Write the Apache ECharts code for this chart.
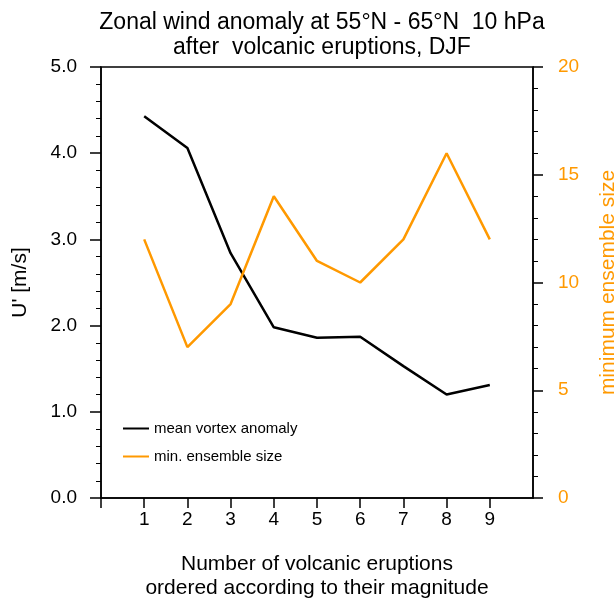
<!DOCTYPE html>
<html>
<head>
<meta charset="utf-8">
<script src="https://cdn.jsdelivr.net/npm/echarts@6/dist/echarts.min.js"></script>
<style>
  html, body { margin: 0; padding: 0; background: #fff; }
  #chart { width: 614px; height: 598px; }
</style>
</head>
<body>
<div id="chart"></div>
<script>
// number of eruptions (x)
var eruptions = [1, 2, 3, 4, 5, 6, 7, 8, 9];
// mean vortex anomaly U' [m/s] (left axis)
var meanAnomaly = [4.43, 4.06, 2.84, 1.98, 1.86, 1.87, 1.53, 1.20, 1.31];
// min. ensemble size (right axis)
var ensembleSize = [12, 7, 9, 14, 11, 10, 12, 16, 12];

var orange = '#FF9900';
var font = '"Liberation Sans", Arial, sans-serif';

function pairs(xs, ys) {
    return xs.map(function (x, i) { return [x, ys[i]]; });
}

var chart = echarts.init(document.getElementById('chart'), null, { renderer: 'canvas' });

var option = {
    animation: false,
    backgroundColor: '#fff',
    title: {
        text: 'Zonal wind anomaly at 55°N - 65°N  10 hPa\nafter  volcanic eruptions, DJF',
        left: 317,
        top: 5,
        textAlign: 'center',
        textStyle: {
            fontFamily: font,
            fontWeight: 'normal',
            fontSize: 23,
            lineHeight: 25,
            color: '#000'
        }
    },
    legend: {
        orient: 'vertical',
        left: 118,
        top: 416,
        itemWidth: 26,
        itemHeight: 10,
        itemGap: 13,
        icon: 'path://M0,4 L26,4 L26,6 L0,6 Z',
        textStyle: { fontFamily: font, fontSize: 15, color: '#000' },
        data: ['mean vortex anomaly', 'min. ensemble size']
    },
    grid: {
        left: 101,
        right: 81,
        top: 67,
        bottom: 100,
        outerBoundsMode: 'none',
        show: true,
        borderColor: '#000',
        borderWidth: 1.5
    },
    xAxis: {
        type: 'value',
        min: 0,
        max: 10,
        interval: 1,
        name: 'Number of volcanic eruptions\nordered according to their magnitude',
        nameLocation: 'middle',
        nameGap: 54,
        nameTextStyle: { fontFamily: font, fontSize: 21, lineHeight: 24, color: '#000' },
        axisLine: { lineStyle: { color: '#000', width: 1.5 } },
        axisTick: { customValues: [0, 1, 2, 3, 4, 5, 6, 7, 8, 9], length: 10, lineStyle: { color: '#000', width: 1.5 } },
        axisLabel: { customValues: eruptions, margin: 12, fontFamily: font, fontSize: 19, color: '#000' },
        splitLine: { show: false }
    },
    yAxis: [{
        type: 'value',
        position: 'left',
        min: 0,
        max: 5,
        interval: 1,
        name: "U' [m/s]",
        nameLocation: 'middle',
        nameGap: 70,
        nameTextStyle: { fontFamily: font, fontSize: 21, color: '#000' },
        axisLine: { show: true, lineStyle: { color: '#000', width: 1.5 } },
        axisTick: { show: true, length: 11, lineStyle: { color: '#000', width: 1.5 } },
        minorTick: { show: true, splitNumber: 5, length: 5, lineStyle: { color: '#000', width: 1 } },
        axisLabel: {
            margin: 24,
            fontFamily: font,
            fontSize: 19,
            color: '#000',
            formatter: function (v) { return v.toFixed(1); }
        },
        splitLine: { show: false }
    }, {
        type: 'value',
        position: 'right',
        min: 0,
        max: 20,
        interval: 5,
        name: 'minimum ensemble size',
        nameLocation: 'middle',
        nameGap: 65,
        nameTextStyle: { fontFamily: font, fontSize: 21, color: orange },
        axisLine: { show: true, lineStyle: { color: '#000', width: 1.5 } },
        axisTick: { show: true, length: 10, lineStyle: { color: '#000', width: 1.5 } },
        minorTick: { show: true, splitNumber: 5, length: 5, lineStyle: { color: '#000', width: 1 } },
        axisLabel: { margin: 25, fontFamily: font, fontSize: 19, color: orange },
        splitLine: { show: false }
    }],
    series: [{
        name: 'mean vortex anomaly',
        type: 'line',
        yAxisIndex: 0,
        data: pairs(eruptions, meanAnomaly),
        symbol: 'none',
        color: '#000',
        lineStyle: { color: '#000', width: 2.5 }
    }, {
        name: 'min. ensemble size',
        type: 'line',
        yAxisIndex: 1,
        data: pairs(eruptions, ensembleSize),
        symbol: 'none',
        color: orange,
        lineStyle: { color: orange, width: 2.5 }
    }]
};

chart.setOption(option);
</script>
</body>
</html>
